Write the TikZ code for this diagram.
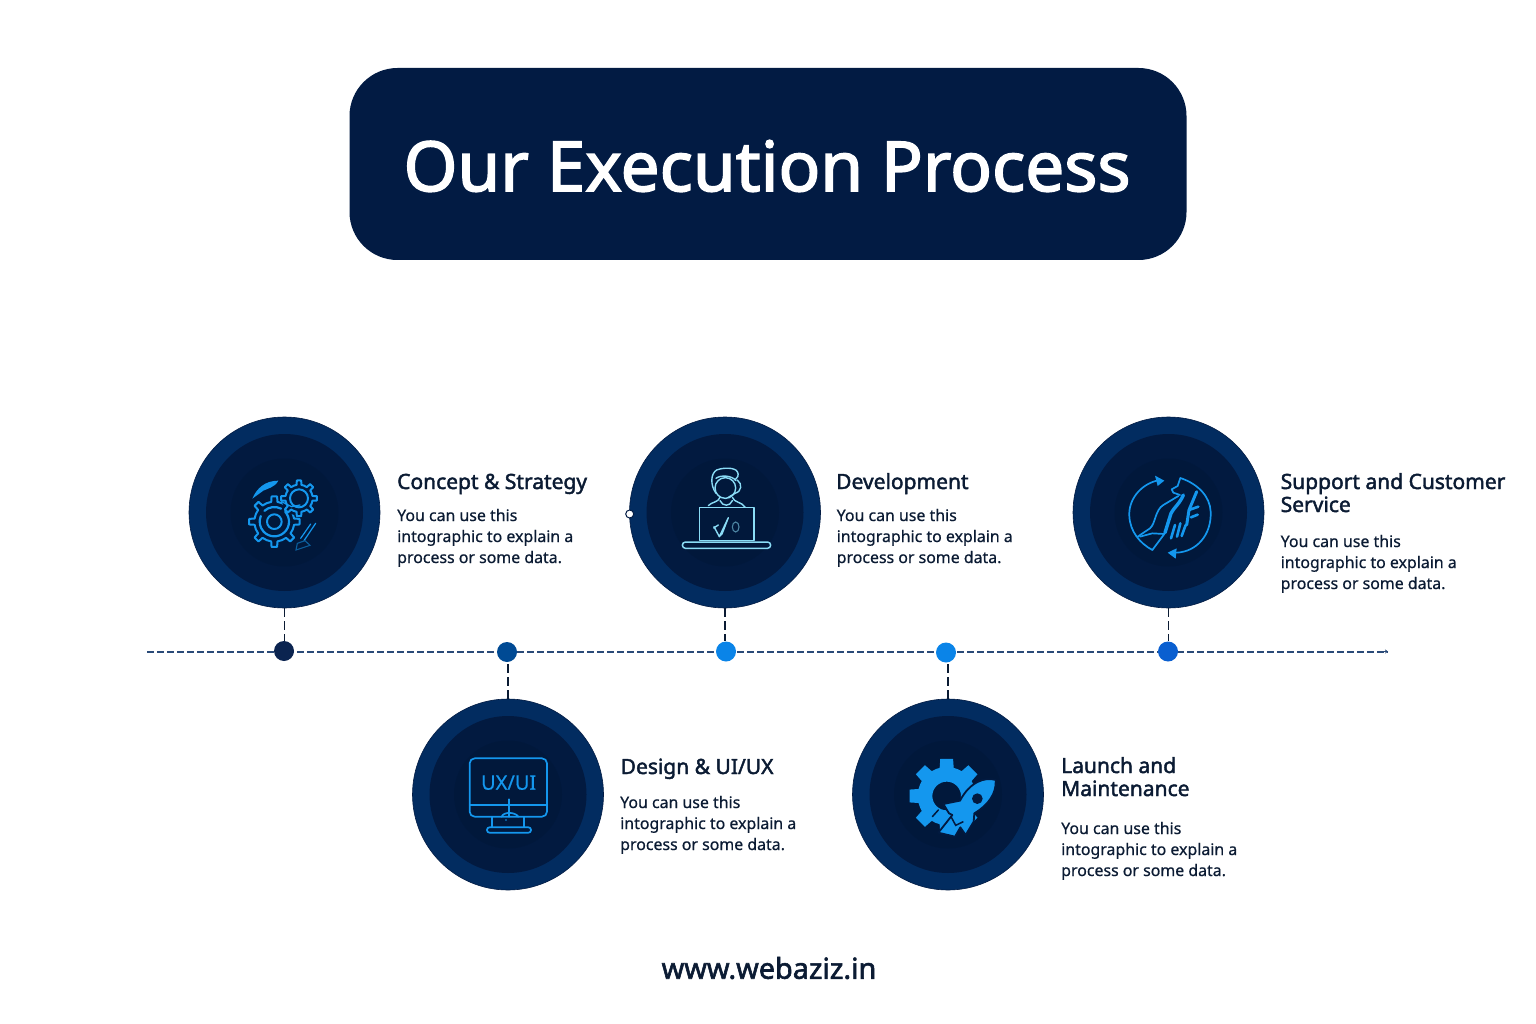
\documentclass[tikz,border=0pt]{standalone}
\usepackage{fontspec}
\setmainfont{Noto Sans}
\newfontfamily\titlefont[FakeBold=2.2]{Noto Sans}
\newfontfamily\semifont[FakeBold=2]{Noto Sans}
\newfontfamily\lightbold[FakeBold=0.6]{Noto Sans}
\usetikzlibrary{arrows.meta}
\definecolor{navy}{HTML}{021B43}
\definecolor{ringout}{HTML}{022C60}
\definecolor{ringin}{HTML}{021A40}
\definecolor{ringcore}{HTML}{01183B}
\definecolor{iconblue}{HTML}{1497EE}
\definecolor{iconlight}{HTML}{8ADCF6}
\definecolor{ink}{HTML}{0B1B33}
\definecolor{lineblue}{HTML}{2A4A78}
\definecolor{dotone}{HTML}{0B2450}
\definecolor{dottwo}{HTML}{004A94}
\definecolor{dotthree}{HTML}{0A84E8}
\definecolor{dotfive}{HTML}{0A5FD0}
\newcommand{\gearshape}[4]{% rout rin teeth width-angle
  (0:#2) \foreach \gi in {1,...,#3}{
    arc[start angle={(\gi-1)*360/#3},end angle={(\gi-1)*360/#3+180/#3-#4},radius=#2]
    -- ({(\gi-1)*360/#3+180/#3-#4*0.7}:#1)
    -- ({(\gi-1)*360/#3+180/#3+#4*0.7}:#1)
    -- ({(\gi-1)*360/#3+180/#3+#4}:#2)
    arc[start angle={(\gi-1)*360/#3+180/#3+#4},end angle={\gi*360/#3},radius=#2]
  } -- cycle}
\tikzset{
  outerdisc/.style={circle,minimum size=191pt,inner sep=0pt,fill=ringout,draw=navy,line width=.6pt},
  innerdisc/.style={circle,minimum size=157pt,inner sep=0pt,fill=ringin},
  coredisc/.style={circle,minimum size=108pt,inner sep=0pt,fill=ringcore},
  dot/.style={circle,minimum size=20pt,inner sep=0pt},
  tline/.style={lineblue,line width=2pt,dash pattern=on 7pt off 3pt},
  stem/.style={ink,line width=1.8pt,dash pattern=on 9pt off 4pt},
  head/.style={anchor=base west,align=left,inner sep=0pt,text=ink,font=\fontsize{21}{23}\selectfont\semifont},
  body/.style={anchor=base west,align=left,inner sep=0pt,text=ink,font=\fontsize{15.9}{21}\selectfont\lightbold},
  ic/.style={iconblue,line width=1.7pt,line join=round,line cap=round},
  il/.style={iconlight,line width=1.4pt,line join=round,line cap=round},
}
\begin{document}
\begin{tikzpicture}[x=1pt,y=-1pt]
\useasboundingbox (0,0) rectangle (1536,1024);
\fill[white] (0,0) rectangle (1536,1024);
% title
\node[fill=navy,rounded corners=48pt,minimum width=837pt,minimum height=192pt,inner sep=0pt] (title) at (768,164) {};
\node[text=white,inner sep=0pt,font=\fontsize{69.2}{80}\selectfont\titlefont] (titletext) at (767,166) {Our Execution Process};
% timeline
\coordinate (tstart) at (147,651.5);
\coordinate (tend) at (1388,651.5);
\draw[tline] (tstart) -- (tend);
\draw[lineblue,line width=.8pt,-{Stealth[length=3pt,width=4pt]}] (1380,651.5) -- (tend);
% discs
\foreach \n/\x/\y in {c1/284.5/512.5,c2/508/794.5,c3/725/512.5,c4/948/794.5,c5/1168.5/512.5}{
  \node[outerdisc] (\n) at (\x,\y) {};
  \node[innerdisc] at (\n) {};
  \node[coredisc] at (\n) {};
}
% dots
\node[dot,fill=dotone] (d1) at (284,651) {};
\node[dot,fill=dottwo] (d2) at (507,652) {};
\node[dot,fill=dotthree] (d3) at (726,651.5) {};
\node[dot,fill=dotthree] (d4) at (946,652.5) {};
\node[dot,fill=dotfive] (d5) at (1168,651.5) {};
% stems
\draw[stem] (c1.south) -- (c1.south |- d1.north);
\draw[stem] (c3.south) -- (c3.south |- d3.north);
\draw[stem] (c5.south) -- (c5.south |- d5.north);
\draw[stem] (c2.north) -- (c2.north |- d2.south);
\draw[stem] (c4.north) -- (c4.north |- d4.south);
% small marker on disc 3
\node[circle,fill=white,draw=navy,line width=1pt,minimum size=8pt,inner sep=0pt] (mark) at (629.7,514) {};
% icon 1: gears
\begin{scope}[shift={(180,410)},scale=1/3]
  \begin{scope}[shift={(283,335)},rotate=22.5]
    \draw[ic,line width=2pt] \gearshape{76}{60}{8}{9};
    \draw[ic,line width=2.2pt] (-20:44) arc[start angle=-20,end angle=225,radius=44];
    \draw[ic,line width=2.2pt] (250:44) arc[start angle=250,end angle=320,radius=44];
    \draw[ic,line width=2pt] (0,0) circle[radius=22];
  \end{scope}
  \begin{scope}[shift={(357,265)},rotate=22.5]
    \fill[ringcore] (0,0) circle[radius=52];
    \draw[ic,line width=2pt] \gearshape{54}{41}{8}{10};
    \draw[ic,line width=2pt] (0,0) circle[radius=27];
  \end{scope}
  \fill[iconblue] (217,266) .. controls (230,235) and (255,212) .. (295,212) .. controls (285,232) and (262,236) .. (250,242) -- cycle;
  \draw[ic,line width=1.2pt] (305,275) -- (335,290) -- (360,285);
  \draw[ic,line width=1.2pt] (362,385) -- (392,342);
  \draw[ic,line width=1.2pt] (372,392) -- (407,340);
  \draw[iconblue!55!ringcore,line width=1.1pt] (348,420) -- (352,400) -- (375,392) -- (390,406) -- cycle;
\end{scope}
% icon 2: UX/UI monitor
\begin{scope}[shift={(405,640)},scale=1/3]
  \draw[ic,rounded corners=5pt] (194,355) rectangle (426,530);
  \draw[ic] (194,496) -- (426,496);
  \draw[ic] (311,478) -- (311,530);
  \draw[ic] (290,530) .. controls (295,515) and (330,515) .. (340,530);
  \fill[iconblue] (303,540) circle[radius=2.5];
  \draw[ic] (262,530) -- (262,562) (358,530) -- (358,562);
  \draw[ic,rounded corners=2.5pt] (246,562) rectangle (378,578);
  \node[inner sep=0pt,text=iconblue,font=\fontsize{20}{24}\selectfont\lightbold] (uxui) at (311,428) {UX/UI};
\end{scope}
% icon 3: developer
\begin{scope}[shift={(620,410)},scale=1/3]
  \draw[il] (316,234) circle[radius=31];
  \draw[il] (288,250) .. controls (270,225) and (272,190) .. (290,180) .. controls (310,172) and (345,172) .. (352,185) .. controls (358,195) and (352,205) .. (345,210);
  \draw[il] (288,205) .. controls (300,195) and (335,195) .. (348,212);
  \draw[il] (352,210) .. controls (368,222) and (365,245) .. (345,250) -- (325,262);
  \draw[il] (265,287) .. controls (275,275) and (295,278) .. (300,262) (337,262) .. controls (342,278) and (365,275) .. (376,292);
  \draw[il] (300,272) .. controls (308,290) and (330,290) .. (337,272);
  \draw[il,line width=1.5pt] (238,293) rectangle (402,392);
  \draw[il,rounded corners=3.2pt,line width=1.5pt] (187,396) rectangle (452,415);
  \draw[il] (282,350) -- (298,380) -- (325,323) -- (306,372) -- (298,380);
  \draw[il] (281,354) -- (295,345);
  \draw[iconlight!55!ringcore,line width=1.1pt] (347,351) ellipse[x radius=10,y radius=15];
\end{scope}
% icon 4: rocket and gear
\begin{scope}[shift={(845,640)},scale=1/3]
  \begin{scope}[shift={(305,468)},rotate=22.5]
    \fill[iconblue,even odd rule] \gearshape{113}{87}{8}{14} (0,0) circle[radius=43];
  \end{scope}
  \draw[ringcore,line width=1.5pt,line cap=round] (262,530) -- (280,510);
  \fill[iconblue,draw=ringin,line width=1.8pt,line join=round]
    (452,420) .. controls (420,410) and (375,425) .. (345,482)
    -- (295,492) -- (312,520) -- (322,525) -- (280,578) -- (330,590) -- (346,562)
    -- (362,585) -- (386,545) -- (388,520)
    .. controls (430,495) and (455,460) .. (452,420) -- cycle;
  \fill[ringin] (397,476) ellipse[x radius=16,y radius=16];
  \draw[ringin,line width=1.5pt] (318,530) -- (332,556) -- (355,545);
\end{scope}
% icon 5: hand with arrows
\begin{scope}[shift={(1065,410)},scale=1/3]
  \draw[ic] (275,212) .. controls (225,225) and (190,270) .. (193,318) .. controls (195,365) and (225,400) .. (262,420);
  \fill[iconblue] (298,212) -- (270,197) -- (278,228) -- cycle;
  \draw[ic] (335,428) .. controls (395,425) and (440,375) .. (437,305) .. controls (435,260) and (400,222) .. (346,204);
  \fill[iconblue] (308,428) -- (335,415) -- (332,446) -- cycle;
  \draw[ic] (346,204) -- (338,228) -- (320,238) -- (325,248) -- (345,255);
  \draw[ic] (218,380) -- (255,355) .. controls (272,340) and (270,300) .. (295,285) -- (340,258);
  \draw[ic] (225,380) -- (262,370) -- (298,372) -- (262,420);
  \draw[iconblue,line width=3.4pt,line cap=round,line join=round] (300,368) -- (318,310) .. controls (325,295) and (345,280) .. (355,255);
  \draw[iconblue,line width=3pt,line cap=round,line join=round] (365,345) -- (372,300) -- (395,245);
  \draw[ic,line width=2.6pt] (372,300) -- (400,290);
  \draw[ic,line width=2.6pt] (378,322) -- (398,314);
  \draw[ic,line width=2.6pt] (330,345) -- (318,385);
  \draw[ic,line width=2.6pt] (346,340) -- (336,380);
  \draw[ic,line width=2.6pt] (362,345) -- (350,378);
\end{scope}
% texts (a multi-line node's base is its last line)
\node[head] (h1) at (397,489) {Concept \& Strategy};
\node[body] (b1) at (397,563) {You can use this\\intographic to explain a\\process or some data.};
\node[head] (h2) at (620.5,774) {Design \& UI/UX};
\node[body] (b2) at (620,850) {You can use this\\intographic to explain a\\process or some data.};
\node[head] (h3) at (836,489) {Development};
\node[body] (b3) at (836.5,563) {You can use this\\intographic to explain a\\process or some data.};
\node[head] (h4) at (1061,796) {Launch and\\Maintenance};
\node[body] (b4) at (1061,876) {You can use this\\intographic to explain a\\process or some data.};
\node[head] (h5) at (1280.5,512) {Support and Customer\\Service};
\node[body] (b5) at (1280.5,589) {You can use this\\intographic to explain a\\process or some data.};
\node[inner sep=0pt,text=ink,font=\fontsize{28.8}{30}\selectfont\semifont] (site) at (769,968) {www.webaziz.in};
\end{tikzpicture}
\end{document}
